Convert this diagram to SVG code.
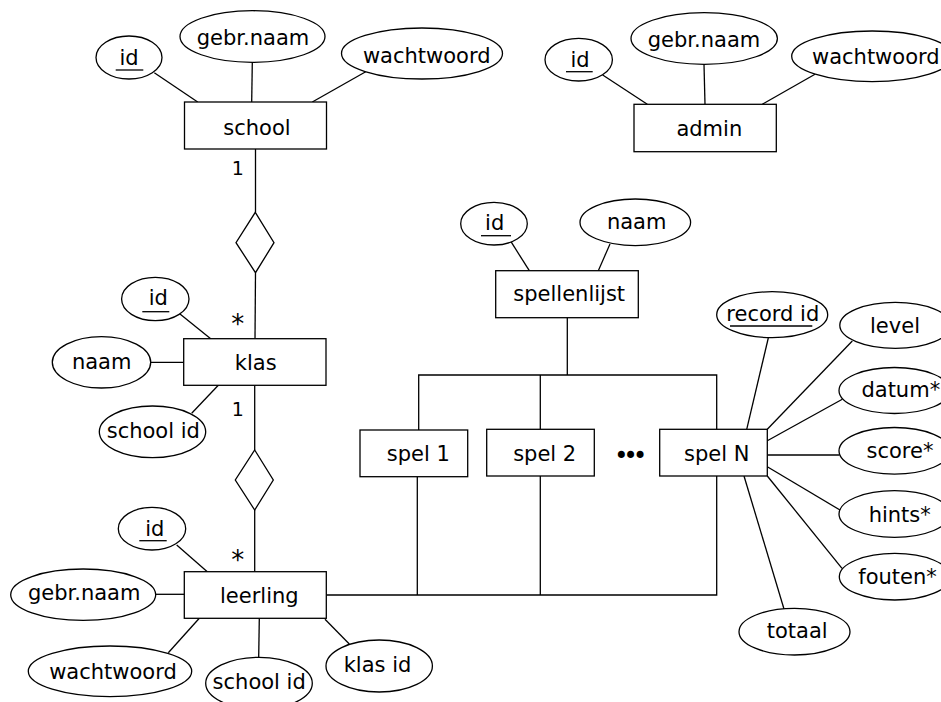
<svg xmlns="http://www.w3.org/2000/svg" width="941" height="702" viewBox="0 0 941 702">
<style>
  rect, ellipse, polygon { fill: #fff; stroke: #000; stroke-width: 1.3; }
  line, polyline { stroke: #000; stroke-width: 1.3; fill: none; }
  text { font-family: "DejaVu Sans", sans-serif; font-size: 21px; fill: #000; text-anchor: middle; }
  text.lbl { font-size: 19px; }
  text.star { font-size: 26px; }
</style>
<g id="connectors">
  <line x1="154.3" y1="72.7" x2="197.7" y2="102"/>
  <line x1="252.3" y1="62.3" x2="251.7" y2="102"/>
  <line x1="365.7" y1="71.7" x2="312.3" y2="102"/>
  <line x1="602.7" y1="75" x2="647.3" y2="104.3"/>
  <line x1="704" y1="64.3" x2="705" y2="104.3"/>
  <line x1="815" y1="74.3" x2="762.3" y2="104.3"/>
  <line x1="255.5" y1="149" x2="255.5" y2="212.3"/>
  <line x1="255.5" y1="272.7" x2="255" y2="338.7"/>
  <line x1="180" y1="314" x2="210.7" y2="338.7"/>
  <line x1="150.7" y1="362.3" x2="183.7" y2="362.3"/>
  <line x1="191.7" y1="413.3" x2="218.3" y2="385.3"/>
  <line x1="254.7" y1="385.3" x2="254.7" y2="450"/>
  <line x1="254.7" y1="510" x2="254.7" y2="571.7"/>
  <line x1="176.7" y1="545" x2="207.3" y2="571.7"/>
  <line x1="155.7" y1="594.3" x2="184.3" y2="594.3"/>
  <line x1="168.3" y1="652.7" x2="199.3" y2="618.3"/>
  <line x1="259.3" y1="618.3" x2="258.7" y2="657.3"/>
  <line x1="325" y1="619.3" x2="349.3" y2="644"/>
  <line x1="511" y1="241.7" x2="529.3" y2="270.7"/>
  <line x1="610" y1="244" x2="598.3" y2="270.7"/>
  <line x1="567.3" y1="317.7" x2="567.3" y2="375"/>
  <polyline points="418.7,430 418.7,375 716.7,375 716.7,429.3"/>
  <line x1="540.3" y1="375" x2="540.3" y2="429.3"/>
  <polyline points="326.3,595 716.7,595 716.7,476"/>
  <line x1="417.3" y1="476.7" x2="417.3" y2="595"/>
  <line x1="540.3" y1="476" x2="540.3" y2="595"/>
  <line x1="768.3" y1="338" x2="746.7" y2="429.3"/>
  <line x1="852.3" y1="341" x2="767.3" y2="429.3"/>
  <line x1="842.3" y1="399.3" x2="767.3" y2="440.7"/>
  <line x1="767.3" y1="455" x2="839.5" y2="455"/>
  <line x1="767.3" y1="466.7" x2="840" y2="510"/>
  <line x1="767.3" y1="476" x2="842" y2="568.3"/>
  <line x1="744" y1="476" x2="784" y2="609"/>
</g>
<g id="school">
  <rect x="184.5" y="102" width="142" height="47"/>
  <text x="257" y="134.5">school</text>
</g>
<g id="school-id">
  <ellipse cx="129" cy="57.5" rx="33" ry="21.5"/>
  <text x="129" y="65">id</text>
  <line x1="115.7" y1="70" x2="143.3" y2="70"/>
</g>
<g id="school-gebrnaam">
  <ellipse cx="252.5" cy="36.5" rx="72.5" ry="25.8"/>
  <text x="253" y="45">gebr.naam</text>
</g>
<g id="school-wachtwoord">
  <ellipse cx="422" cy="53.5" rx="80.5" ry="25.5"/>
  <text x="426.7" y="62.7">wachtwoord</text>
</g>
<g id="admin">
  <rect x="634" y="104.3" width="142.3" height="47.4"/>
  <text x="709.3" y="135.7">admin</text>
</g>
<g id="admin-id">
  <ellipse cx="578.7" cy="59.7" rx="33.7" ry="21.3"/>
  <text x="580" y="66.7">id</text>
  <line x1="566" y1="71.7" x2="592.7" y2="71.7"/>
</g>
<g id="admin-gebrnaam">
  <ellipse cx="704.2" cy="38.5" rx="73.2" ry="25.8"/>
  <text x="704" y="46.7">gebr.naam</text>
</g>
<g id="admin-wachtwoord">
  <ellipse cx="872.2" cy="56.3" rx="80.5" ry="25.3"/>
  <text x="875.8" y="64.3">wachtwoord</text>
</g>
<g id="rel-school-klas">
  <polygon points="255.3,212.3 274,242.7 255.5,272.7 236,242.7"/>
  <text class="lbl" x="237.7" y="175">1</text>
  <text class="star" x="237.7" y="333">*</text>
</g>
<g id="klas">
  <rect x="183.7" y="338.7" width="142.3" height="46.6"/>
  <text x="255.7" y="370">klas</text>
</g>
<g id="klas-id">
  <ellipse cx="155.3" cy="299" rx="33.7" ry="21.7"/>
  <text x="158.3" y="305">id</text>
  <line x1="142.3" y1="311.7" x2="169.3" y2="311.7"/>
</g>
<g id="klas-naam">
  <ellipse cx="101.5" cy="362.3" rx="49.2" ry="25.7"/>
  <text x="101.7" y="369">naam</text>
</g>
<g id="klas-schoolid">
  <ellipse cx="152.5" cy="431.8" rx="53.2" ry="25.8"/>
  <text x="153.3" y="438.3">school id</text>
</g>
<g id="rel-klas-leerling">
  <polygon points="254.7,450 273.3,480 254.7,510 235.3,480"/>
  <text class="lbl" x="237.7" y="416">1</text>
  <text class="star" x="237.7" y="568.5">*</text>
</g>
<g id="leerling">
  <rect x="184.3" y="571.7" width="142" height="46.6"/>
  <text x="259.3" y="602.7">leerling</text>
</g>
<g id="leerling-id">
  <ellipse cx="152" cy="528.7" rx="33.7" ry="21.3"/>
  <text x="154.8" y="535.7">id</text>
  <line x1="139.3" y1="540.7" x2="166.7" y2="540.7"/>
</g>
<g id="leerling-gebrnaam">
  <ellipse cx="83.2" cy="594.7" rx="72.5" ry="25.7"/>
  <text x="84.2" y="600">gebr.naam</text>
</g>
<g id="leerling-wachtwoord">
  <ellipse cx="110" cy="671.3" rx="81.7" ry="25.3"/>
  <text x="113" y="679.3">wachtwoord</text>
</g>
<g id="leerling-schoolid">
  <ellipse cx="259" cy="683.3" rx="53.3" ry="26"/>
  <text x="259.2" y="689.3">school id</text>
</g>
<g id="leerling-klasid">
  <ellipse cx="379.2" cy="666" rx="53.2" ry="26"/>
  <text x="377.5" y="672.3">klas id</text>
</g>
<g id="spellenlijst">
  <rect x="495.7" y="270.7" width="142.6" height="47"/>
  <text x="569.2" y="301">spellenlijst</text>
</g>
<g id="spellenlijst-id">
  <ellipse cx="494" cy="223.7" rx="33.3" ry="21.3"/>
  <text x="494.7" y="230">id</text>
  <line x1="481" y1="235.7" x2="511" y2="235.7"/>
</g>
<g id="spellenlijst-naam">
  <ellipse cx="635.3" cy="222.3" rx="55.3" ry="23.3"/>
  <text x="636.7" y="229.3">naam</text>
</g>
<g id="spel1">
  <rect x="360" y="430" width="107.7" height="46.7"/>
  <text x="418.3" y="461">spel 1</text>
</g>
<g id="spel2">
  <rect x="486.7" y="429.3" width="107.6" height="46.7"/>
  <text x="544.7" y="460.7">spel 2</text>
</g>
<g id="dots">
  <text x="628.3" y="463.5" style="font-size:24px;letter-spacing:-4.8px">•••</text>
</g>
<g id="spelN">
  <rect x="659.7" y="429.3" width="107.6" height="46.7"/>
  <text x="716.7" y="460.7">spel N</text>
</g>
<g id="spelN-recordid">
  <ellipse cx="772.2" cy="314.7" rx="55.5" ry="23"/>
  <text x="772.8" y="321">record id</text>
  <line x1="730" y1="326" x2="812.3" y2="326"/>
</g>
<g id="spelN-level">
  <ellipse cx="895.3" cy="325.3" rx="55.5" ry="23"/>
  <text x="895" y="332.7">level</text>
</g>
<g id="spelN-datum">
  <ellipse cx="894.5" cy="390.5" rx="55.5" ry="23"/>
  <text x="900.8" y="397.3">datum*</text>
</g>
<g id="spelN-score">
  <ellipse cx="894.5" cy="450.8" rx="55.5" ry="23.3"/>
  <text x="900" y="458.3">score*</text>
</g>
<g id="spelN-hints">
  <ellipse cx="894.5" cy="514" rx="55.5" ry="23.3"/>
  <text x="899.7" y="521.7">hints*</text>
</g>
<g id="spelN-fouten">
  <ellipse cx="894.8" cy="576.7" rx="55.5" ry="23.3"/>
  <text x="897.5" y="584">fouten*</text>
</g>
<g id="spelN-totaal">
  <ellipse cx="794.5" cy="631.7" rx="55.5" ry="23.3"/>
  <text x="797.2" y="638.3">totaal</text>
</g>
</svg>
